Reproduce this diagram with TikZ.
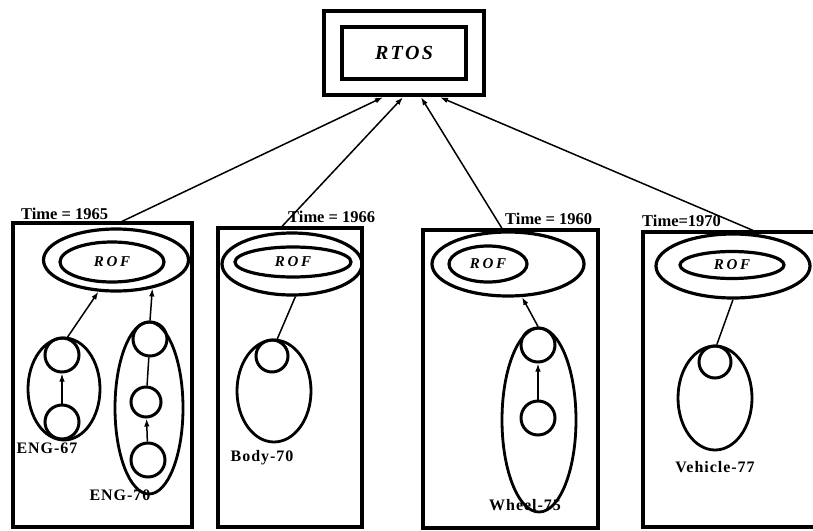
\documentclass[tikz,border=0pt]{standalone}
\usepackage{fontspec}
\setmainfont{Liberation Serif}
\usetikzlibrary{shapes.geometric,arrows.meta}
\tikzset{
  unitbox/.style={draw, line width=3.2pt, inner sep=0pt},
  rofout/.style={draw, ellipse, line width=3.2pt, inner sep=0pt},
  rofin/.style={draw, ellipse, line width=3.2pt, inner sep=0pt,
    font=\bfseries\itshape\fontsize{15}{17}\selectfont\addfontfeatures{LetterSpace=18}},
  grp/.style={draw, ellipse, line width=2.8pt, inner sep=0pt},
  obj/.style={draw, circle, line width=3pt, inner sep=0pt, minimum size=34pt},
  lab/.style={inner sep=0pt, font=\bfseries\fontsize{16}{18}\selectfont\addfontfeatures{LetterSpace=6}},
  tlab/.style={inner sep=0pt, anchor=base west, font=\bfseries\fontsize{16.5}{19}\selectfont},
  link/.style={line width=1.5pt}
}
\begin{document}
\begin{tikzpicture}[x=1pt, y=-1pt, >={Latex[length=8pt,width=5.5pt]}]
  \useasboundingbox (0,0) rectangle (813,530);
  \clip (0,0) rectangle (813,530);
  \node[draw, line width=4.5pt, minimum width=160pt, minimum height=84pt] (rtosout) at (404,53) {};
  \node[draw, line width=4pt, minimum width=124pt, minimum height=52pt, inner sep=0pt,
    font=\bfseries\itshape\fontsize{20}{22}\selectfont\addfontfeatures{LetterSpace=12}] (rtos) at (404,53) {RTOS};
  % units
  \node[unitbox, minimum width=179pt, minimum height=304pt] (box1) at (102.5,375) {};
  \node[unitbox, minimum width=144pt, minimum height=299pt] (box2) at (290,377.5) {};
  \node[unitbox, minimum width=175pt, minimum height=298pt] (box3) at (510.5,379) {};
  \node[unitbox, minimum width=194pt, minimum height=295pt] (box4) at (740,379.5) {};
  \node[tlab] (time1) at (21,219) {Time = 1965};
  \node[tlab] (time2) at (288,222) {Time = 1966};
  \node[tlab] (time3) at (505,224) {Time = 1960};
  \node[tlab] (time4) at (642,226) {Time=1970};
  \draw[->, link] ([xshift=19.5pt]box1.north) -- ([xshift=-21pt]rtosout.south);
  \draw[->, link] ([xshift=-8pt]box2.north) -- ([xshift=-1pt]rtosout.south);
  \draw[->, link] ([xshift=-8.5pt]box3.north) -- ([xshift=17pt]rtosout.south);
  \draw[->, link] ([xshift=13pt]box4.north) -- ([xshift=36pt]rtosout.south);
  % ROF
  \node[rofout, minimum width=145pt, minimum height=62pt] (rof1o) at (116,260) {};
  \node[rofin, minimum width=104pt, minimum height=40pt] (rof1) at (112,262) {ROF};
  \node[rofout, minimum width=140pt, minimum height=62pt] (rof2o) at (292,264) {};
  \node[rofin, minimum width=116pt, minimum height=30pt] (rof2) at (293,262) {ROF};
  \node[rofout, minimum width=152pt, minimum height=64pt] (rof3o) at (508,264) {};
  \node[rofin, minimum width=78pt, minimum height=36pt] (rof3) at (488,264) {ROF};
  \node[rofout, minimum width=154pt, minimum height=64pt] (rof4o) at (733,266) {};
  \node[rofin, minimum width=104pt, minimum height=27pt] (rof4) at (732,265) {ROF};
  % objects
  \node[grp, minimum width=72pt, minimum height=102pt] (eng67) at (64,389) {};
  \node[obj] (e67a) at (62,355) {};
  \node[obj] (e67b) at (62,422) {};
  \node[grp, minimum width=68pt, minimum height=172pt] (eng70) at (149,408) {};
  \node[obj] (e70a) at (150,339) {};
  \node[obj, minimum size=30pt] (e70b) at (146,402) {};
  \node[obj] (e70c) at (148,460) {};
  \node[grp, minimum width=74pt, minimum height=102pt] (body70) at (274,391) {};
  \node[obj, minimum size=32pt] (b70a) at (272,356) {};
  \node[grp, minimum width=74pt, minimum height=184pt] (wheel75) at (539,420) {};
  \node[obj] (w75a) at (538,345) {};
  \node[obj] (w75b) at (538,418) {};
  \node[grp, minimum width=74pt, minimum height=104pt] (veh77) at (715,398) {};
  \node[obj, minimum size=32pt] (v77a) at (715,362) {};
  \draw[->, link] (e67b) -- (e67a);
  \draw[->, link] (e67a.73) -- (rof1o.241);
  \draw[->, link] (e70c) -- (e70b);
  \draw[link] (e70b) -- (e70a);
  \draw[->, link] (e70a.north) -- (rof1o.322);
  \draw[link] (b70a.73) -- (rof2o.276);
  \draw[->, link] (w75b) -- (w75a);
  \draw[->, link] (w75a.north) -- (rof3o.293);
  \draw[link] (v77a.84) -- (rof4o.270);
  % names
  \node[lab] (n67) at (47,448) {ENG-67};
  \node[lab] (n70) at (120,495) {ENG-70};
  \node[lab] (nbody) at (262,458) {Body-70};
  \node[lab] (nwheel) at (525,505) {Wheel-75};
  \node[lab] (nveh) at (715,467) {Vehicle-77};
\end{tikzpicture}
\end{document}
